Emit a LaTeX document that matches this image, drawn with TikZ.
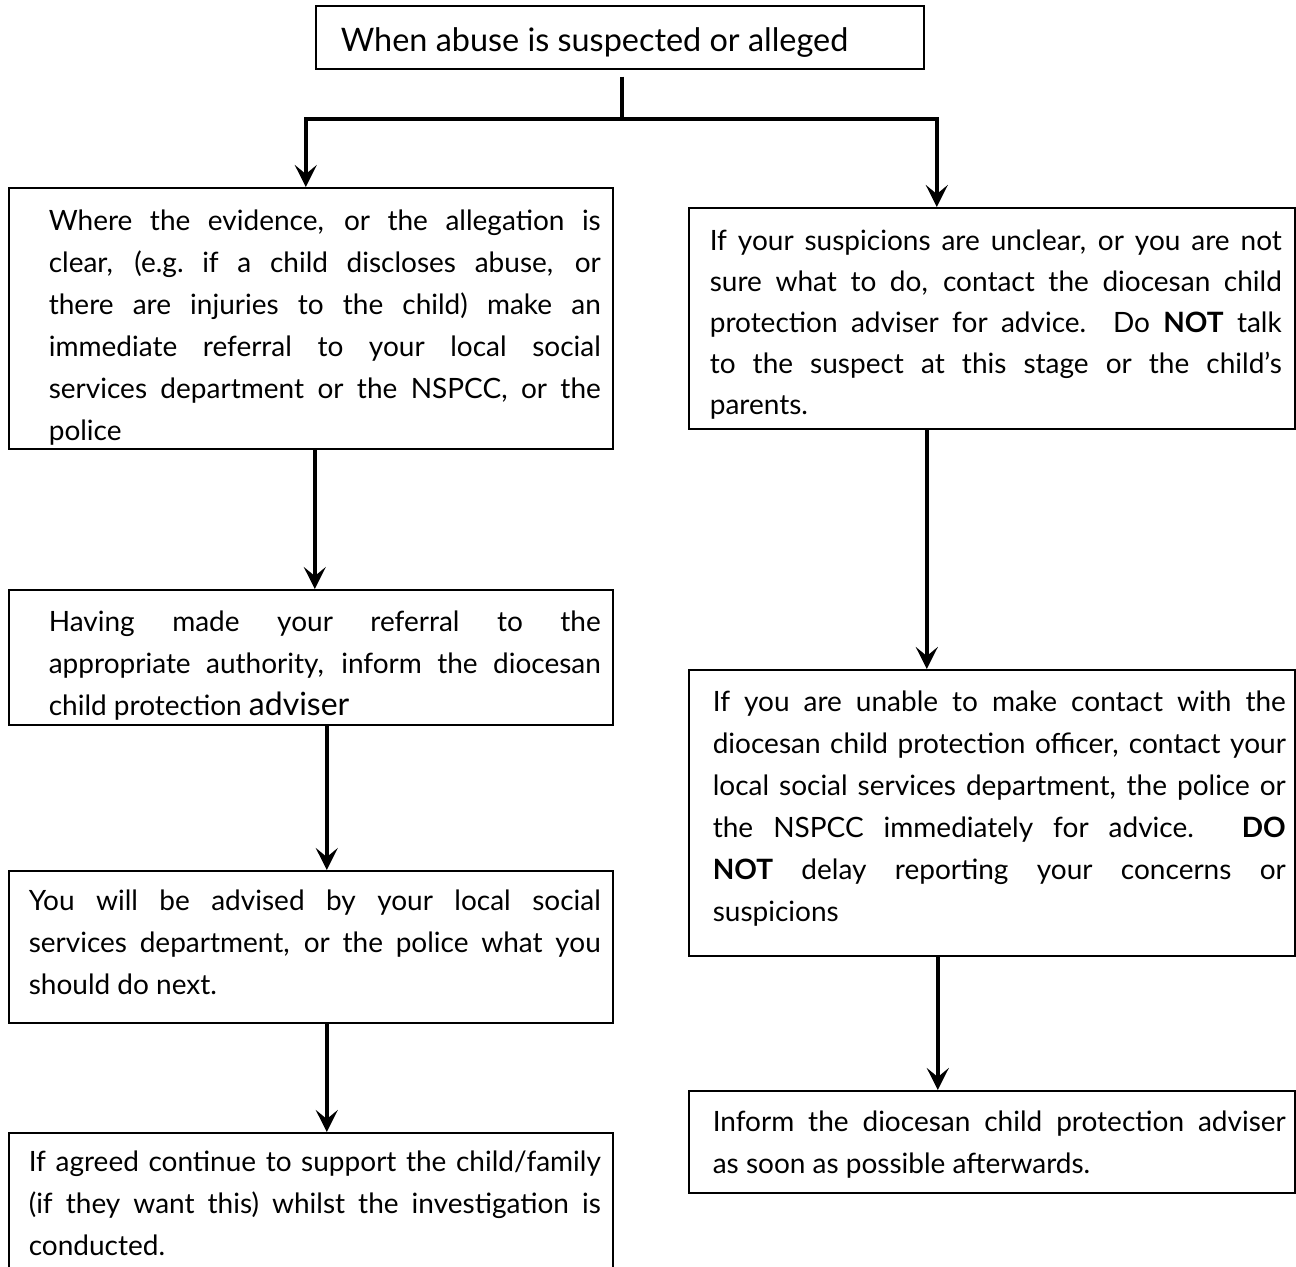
\documentclass[tikz,border=0pt]{standalone}
\usepackage{fontspec}
\setmainfont{Lato}
\usetikzlibrary{positioning,arrows.meta}

% total width, left inset, text width, height, top gap, text
\newcommand{\boxpar}[6]{\makebox[#1][l]{\hspace*{#2}\parbox[c][#4][t]{#3}{\vspace*{#5}\strut#6}}}

\tikzset{
  flowbox/.style={draw, line width=0.8pt, inner sep=0pt, anchor=north west,
    font=\fontsize{14}{21}\selectfont},
  flow/.style={line width=2.3pt},
  flowarrow/.style={flow, -{Stealth[length=11pt,width=11pt,inset=4.5pt]}},
}

\begin{document}
\begin{tikzpicture}[x=0.5pt,y=-0.5pt]
\useasboundingbox (0,0) rectangle (1296,1266);
\clip (0,0) rectangle (1296,1266);

\node[flowbox,font=\fontsize{16.2}{19.5}\selectfont] (top) at (315,5)
  {\boxpar{304pt}{12.5pt}{290pt}{31.5pt}{9pt}{When abuse is suspected or alleged}};

% left column
\node[flowbox] (l1) at (8,187)
  {\boxpar{302pt}{20pt}{276pt}{130.5pt}{6.8pt}{Where the evidence, or the allegation is\linebreak
   clear, (e.g.\ if a child discloses abuse, or\linebreak
   there are injuries to the child) make an\linebreak
   immediate referral to your local social\linebreak
   services department or the NSPCC, or the\linebreak
   police}};
\node[flowbox] (l2) at (8,589)
  {\boxpar{302pt}{20pt}{276pt}{67.5pt}{6.3pt}{Having made your referral to the\linebreak
   appropriate authority, inform the diocesan\linebreak
   child protection {\fontsize{16}{21}\selectfont adviser}}};
\node[flowbox] (l3) at (8,870)
  {\boxpar{302pt}{10pt}{286pt}{76pt}{5.3pt}{You will be advised by your local social\linebreak
   services department, or the police what you\linebreak
   should do next.}};
\node[flowbox] (l4) at (8,1132)
  {\boxpar{302pt}{10pt}{286pt}{90pt}{4.8pt}{If agreed continue to support the child/family\linebreak
   (if they want this) whilst the investigation is\linebreak
   conducted.}};

% right column
\node[flowbox,font=\fontsize{14}{20.5}\selectfont] (r1) at (688,207)
  {\boxpar{303pt}{10.5pt}{286pt}{110.5pt}{7.1pt}{If your suspicions are unclear, or you are not\linebreak
   sure what to do, contact the diocesan child\linebreak
   protection adviser for advice.\ \ Do \textbf{NOT} talk\linebreak
   to the suspect at this stage or the child's\linebreak
   parents.}};
\node[flowbox] (r2) at (688,669)
  {\boxpar{303pt}{12pt}{286.5pt}{143pt}{6.3pt}{If you are unable to make contact with the\linebreak
   diocesan child protection officer, contact your\linebreak
   local social services department, the police or\linebreak
   the NSPCC immediately for advice. \textbf{DO}\linebreak
   \textbf{NOT} delay reporting your concerns or\linebreak
   suspicions}};
\node[flowbox] (r3) at (688,1090)
  {\boxpar{303pt}{12pt}{286.5pt}{51pt}{5.8pt}{Inform the diocesan child protection adviser\linebreak
   as soon as possible afterwards.}};

% connectors
\coordinate (split) at (622,119);
\draw[flow] ([yshift=-3.5pt]top.south -| split) -- (split);
\draw[flowarrow] (split) -| ([xshift=-2.5pt]l1.north);
\draw[flowarrow] (split) -| ([xshift=-27.5pt]r1.north);
\draw[flowarrow] ([xshift=2pt]l1.south) -- ([xshift=2pt]l2.north);
\draw[flowarrow] ([xshift=8pt]l2.south) -- ([xshift=8pt]l3.north);
\draw[flowarrow] ([xshift=8pt]l3.south) -- ([xshift=8pt]l4.north);
\draw[flowarrow] ([xshift=-32.5pt]r1.south) -- ([xshift=-32.5pt]r2.north);
\draw[flowarrow] ([xshift=-27pt]r2.south) -- ([xshift=-27pt]r3.north);
\end{tikzpicture}
\end{document}
